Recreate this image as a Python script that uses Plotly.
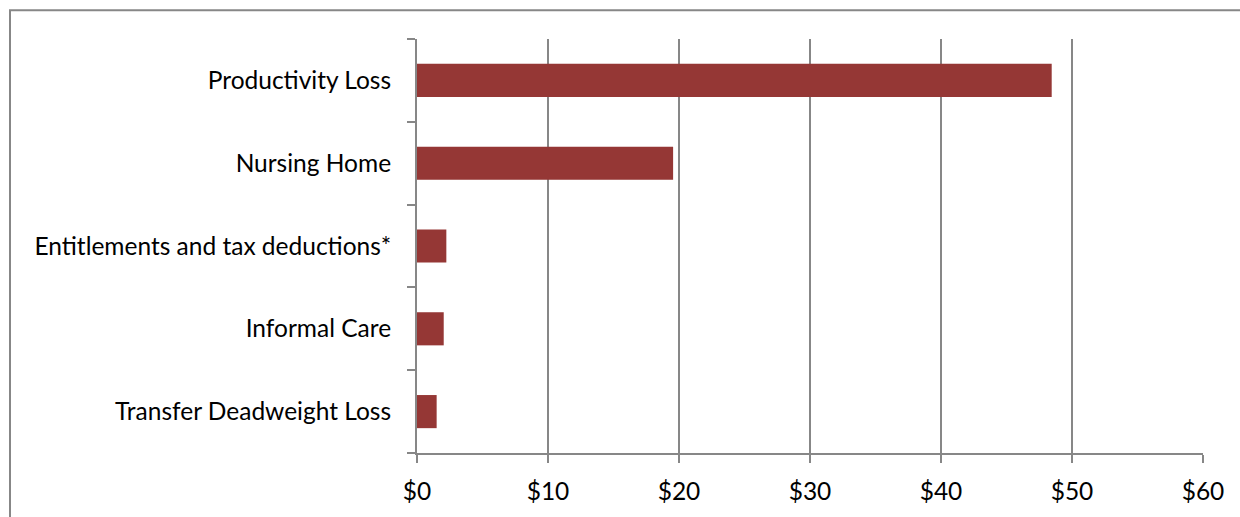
import plotly.graph_objects as go

categories = ["Transfer Deadweight Loss", "Informal Care", "Entitlements and tax deductions*",
              "Nursing Home", "Productivity Loss"]
values = [1.5, 2.04, 2.24, 19.55, 48.45]
tick_vals = [0, 10, 20, 30, 40, 50, 60]
tick_text = ["$0", "$10", "$20", "$30", "$40", "$50", "$60"]

GRID = "#878787"
FONT = "Lato, Carlito, Calibri, sans-serif"

fig = go.Figure(go.Bar(
    y=categories, x=values, orientation="h",
    marker=dict(color="#953735", line=dict(width=0)),
    width=0.4,
))

fig.update_layout(
    width=1240, height=517,
    margin=dict(l=417, r=37, t=39, b=62),
    plot_bgcolor="white", paper_bgcolor="white",
    showlegend=False,
    font=dict(family=FONT, size=24.5, color="#000000"),
    xaxis=dict(
        range=[0, 60], tickvals=tick_vals, ticktext=tick_text,
        showgrid=True, gridcolor=GRID, gridwidth=2,
        showline=True, linecolor=GRID, linewidth=2,
        ticks="outside", ticklen=8, tickwidth=2, tickcolor=GRID,
        zeroline=False, fixedrange=True, ticklabelstandoff=8,
    ),
    yaxis=dict(
        categoryorder="array", categoryarray=categories,
        showgrid=False, showline=True, linecolor=GRID, linewidth=2,
        ticks="outside", ticklen=8, tickwidth=2, tickcolor=GRID,
        tickson="boundaries", ticklabelstandoff=19,
        zeroline=False, fixedrange=True,
    ),
    shapes=[dict(
        type="rect", xref="paper", yref="paper",
        x0=(10 - 417) / 786, x1=(1250 - 417) / 786,
        y0=(455 - 530) / 416, y1=(455 - 10) / 416,
        line=dict(color=GRID, width=2), fillcolor="rgba(0,0,0,0)", layer="below",
    )],
)

fig.write_html(
    "out.html",
    config={"displayModeBar": False, "staticPlot": True},
    post_script="document.body.style.margin='0';document.body.style.overflow='hidden';",
)
